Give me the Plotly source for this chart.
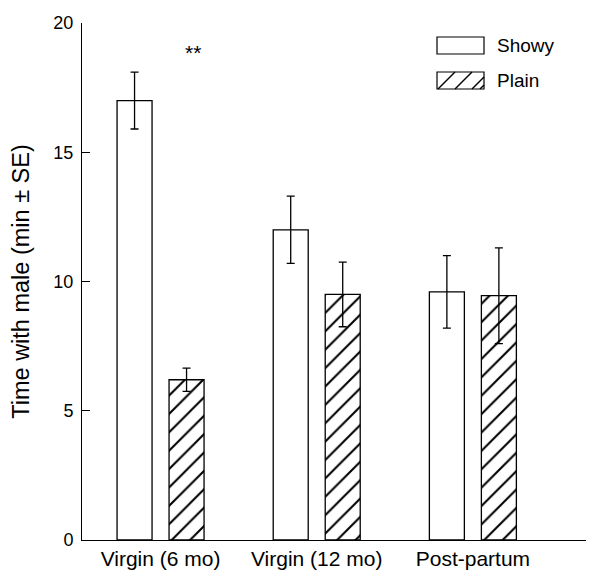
import plotly.graph_objects as go

categories = ["Virgin (6 mo)", "Virgin (12 mo)", "Post-partum"]
showy_mean = [17.0, 12.0, 9.6]
showy_se = [1.1, 1.3, 1.4]
plain_mean = [6.2, 9.5, 9.45]
plain_se = [0.45, 1.25, 1.85]
y_ticks = [0, 5, 10, 15, 20]
series_names = ["Showy", "Plain"]
xpos = list(range(len(categories)))

FONT = "Liberation Sans, Arial, sans-serif"

# page offset from the default body margin of the HTML page
OFF = 8
W, H = 594 - OFF, 578 - OFF
ML, MR, MT, MB = 74, 4, 15, 38
PW, PH = W - ML - MR, H - MT - MB


def px(xp, yp):
    """page pixel -> paper coords"""
    return (xp - OFF - ML) / PW, 1 - (yp - OFF - MT) / PH


fig = go.Figure()
fig.add_trace(go.Bar(
    x=xpos, y=showy_mean, name=series_names[0],
    marker=dict(color="white", line=dict(color="black", width=1.3)),
    error_y=dict(type="data", array=showy_se, color="black", thickness=1.3, width=4),
))
fig.add_trace(go.Bar(
    x=xpos, y=plain_mean, name=series_names[1],
    marker=dict(color="white", line=dict(color="black", width=1.3),
                pattern=dict(shape="/", fgcolor="black", bgcolor="white", fgopacity=1,
                             fillmode="replace", size=13, solidity=0.16)),
    error_y=dict(type="data", array=plain_se, color="black", thickness=1.3, width=4),
))

fig.add_annotation(x=0.21, y=18.85, xref="x", yref="y", text="**", showarrow=False,
                   font=dict(size=21, color="black", family=FONT))

# custom legend (boxes drawn to match the original's wide swatches)
shapes = []
x0, y0 = px(437, 37)
x1, y1 = px(484, 54)
shapes.append(dict(type="rect", xref="paper", yref="paper", x0=x0, y0=y0, x1=x1, y1=y1,
                   line=dict(color="black", width=1.2), fillcolor="white"))
x0, y0 = px(437, 72)
x1, y1 = px(484, 89)
shapes.append(dict(type="rect", xref="paper", yref="paper", x0=x0, y0=y0, x1=x1, y1=y1,
                   line=dict(color="black", width=1.2), fillcolor="white"))
for a, b in [((438, 89), (455, 72)), ((455, 89), (472, 72)), ((472, 89), (484, 77)), ((480, 89), (484, 85))]:
    ax, ay = px(*a)
    bx, by = px(*b)
    shapes.append(dict(type="line", xref="paper", yref="paper", x0=ax, y0=ay, x1=bx, y1=by,
                       line=dict(color="black", width=1.5)))
for name, yp in zip(series_names, [45.5, 80.5]):
    tx, ty = px(495, yp)
    fig.add_annotation(x=tx, y=ty, xref="paper", yref="paper", text=name, showarrow=False,
                       xanchor="left", yanchor="middle", font=dict(size=19, color="black", family=FONT))

fig.update_layout(
    width=W, height=H,
    margin=dict(l=ML, r=MR, t=MT, b=MB),
    paper_bgcolor="white", plot_bgcolor="white",
    barmode="group", bargap=0.334, bargroupgap=0.327,
    font=dict(family=FONT, size=18, color="black"),
    showlegend=False,
    shapes=shapes,
    xaxis=dict(range=[-0.503, 2.75], tickmode="array", tickvals=xpos, ticktext=categories,
               showline=True, linecolor="black", linewidth=1, ticks="", showgrid=False,
               zeroline=False, tickfont=dict(size=21)),
    yaxis=dict(range=[0, 20], tickmode="array", tickvals=y_ticks,
               showline=True, linecolor="black", linewidth=1, ticks="inside", ticklen=8,
               tickcolor="black", showgrid=False, zeroline=False, tickfont=dict(size=18),
               ticklabelstandoff=4,
               title=dict(text="Time with male (min ± SE)", font=dict(size=23.5), standoff=17)),
)

fig.write_html("out.html")
